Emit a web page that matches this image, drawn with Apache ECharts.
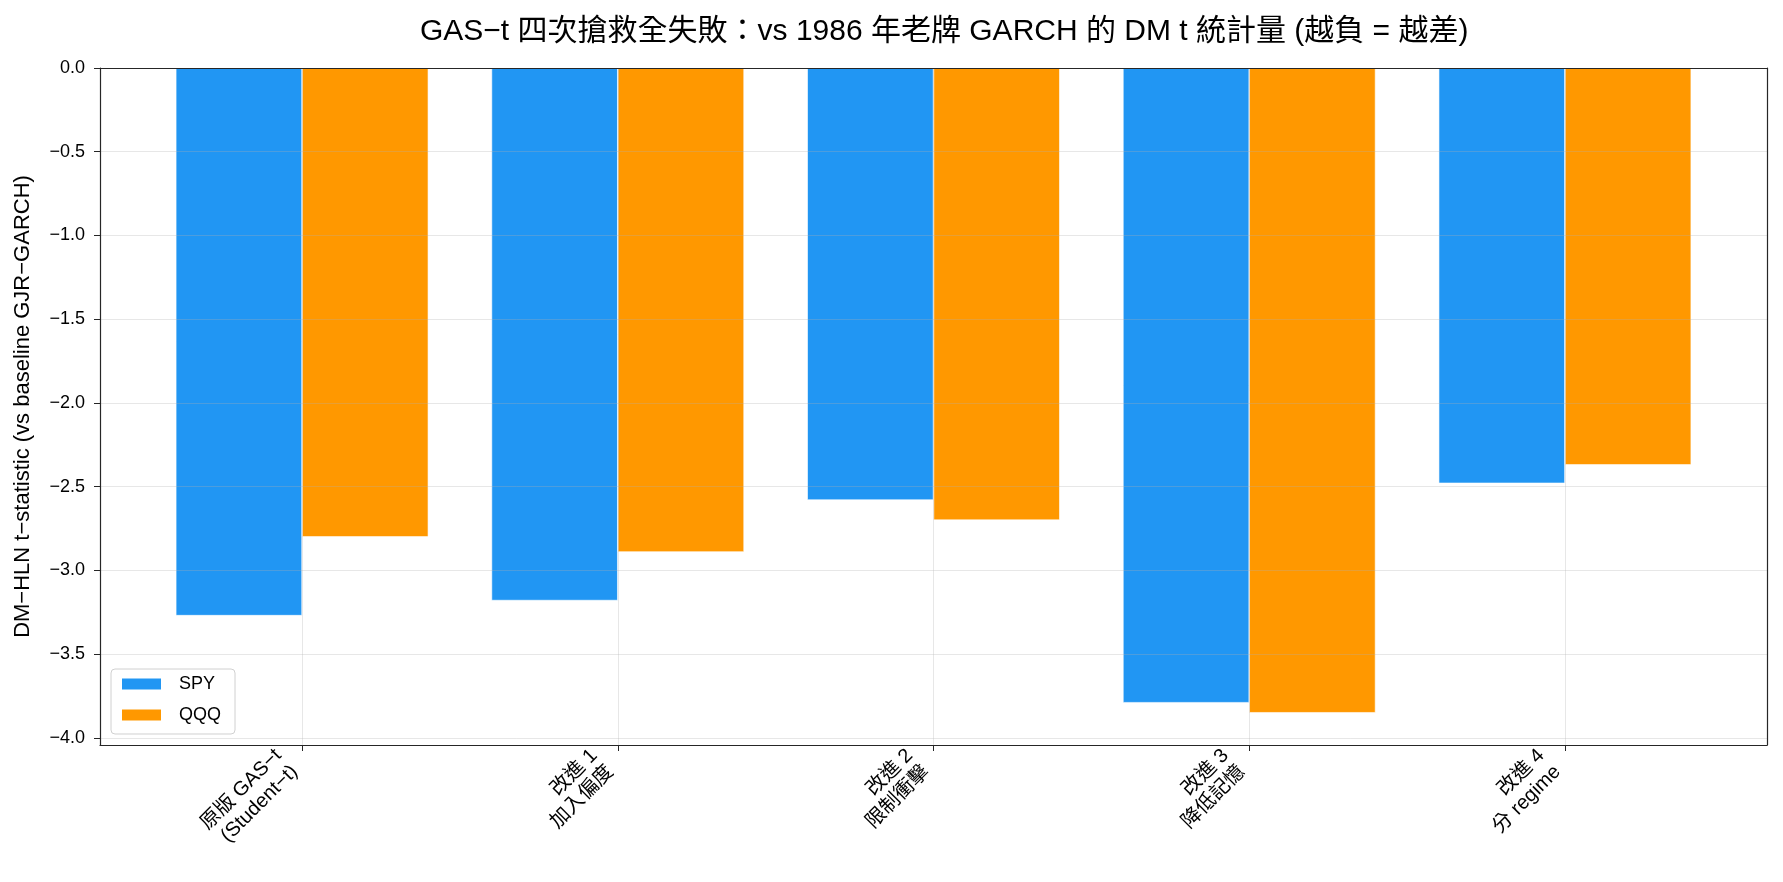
<!DOCTYPE html>
<html>
<head>
<meta charset="utf-8">
<script src="https://cdn.jsdelivr.net/npm/echarts@6/dist/echarts.min.js"></script>
<style>
  html, body { margin: 0; padding: 0; background: #fff; }
  #chart { width: 1783px; height: 882px; }
</style>
</head>
<body>
<div id="chart"></div>
<script>
// 類別與數據
const categories = ['原版 GAS\u2212t\n(Student\u2212t)', '改進 1\n加入偏度', '改進 2\n限制衝擊', '改進 3\n降低記憶', '改進 4\n分 regime']
const spyValues = [-3.27, -3.18, -2.58, -3.79, -2.48]
const qqqValues = [-2.80, -2.89, -2.70, -3.85, -2.37]
const yTicks = [0, -0.5, -1, -1.5, -2, -2.5, -3, -3.5, -4]
const xTicks = [0, 1, 2, 3, 4]

const font = '"Liberation Sans", "Noto Sans CJK TC", sans-serif'
const frameColor = '#262626'
const gridColor = 'rgba(176,176,176,0.3)'

// 數值格式 (用 U+2212 負號)
function fmt(v) {
  return (v < 0 ? '\u2212' : '') + Math.abs(v).toFixed(1)
}

// 只畫框線的輔助軸
function frameAxis(position, min, max) {
  return {
    type: 'value',
    position: position,
    min: min,
    max: max,
    z: 3,
    axisLine: { show: true, onZero: false, lineStyle: { color: frameColor, width: 1.2 } },
    axisTick: { show: false },
    axisLabel: { show: false },
    splitLine: { show: false }
  }
}

function toPairs(values) {
  return values.map((v, i) => [i, v])
}

const option = {
  animation: false,
  textStyle: { fontFamily: font },
  title: {
    text: 'GAS\u2212t 四次搶救全失敗：vs 1986 年老牌 GARCH 的 DM t 統計量 (越負 = 越差)',
    left: 415,
    top: 12,
    textStyle: { fontFamily: font, fontSize: 30, fontWeight: 'normal', color: '#000' }
  },
  grid: { left: 100, right: 16, top: 68, bottom: 137 },
  legend: {
    orient: 'vertical',
    left: 111,
    top: 669,
    padding: [6, 14, 10, 9],
    itemGap: 13,
    itemWidth: 41,
    itemHeight: 13,
    icon: 'rect',
    borderColor: '#d0d0d0',
    borderWidth: 1,
    borderRadius: 4,
    backgroundColor: 'rgba(255,255,255,0.8)',
    textStyle: { fontFamily: font, fontSize: 18, color: '#000', padding: [0, 0, 0, 12] },
    data: ['SPY', 'QQQ']
  },
  xAxis: [
    {
      type: 'value',
      position: 'bottom',
      min: -0.64,
      max: 4.64,
      z: 3,
      axisLine: { show: true, onZero: false, lineStyle: { color: frameColor, width: 1.2 } },
      axisTick: { show: true, length: 6, customValues: xTicks, lineStyle: { color: frameColor } },
      axisLabel: {
        customValues: xTicks,
        rotate: 45,
        margin: 0,
        padding: [0, 22, 0, 0],
        fontFamily: font,
        fontSize: 20,
        lineHeight: 23,
        color: '#000',
        formatter: v => categories[Math.round(v)]
      },
      splitLine: { show: true, lineStyle: { color: gridColor, width: 1 } }
    },
    frameAxis('top', -0.64, 4.64)
  ],
  yAxis: [
    {
      type: 'value',
      position: 'left',
      min: -4.0425,
      max: 0,
      z: 3,
      name: 'DM\u2212HLN t\u2212statistic (vs baseline GJR\u2212GARCH)',
      nameLocation: 'middle',
      nameGap: 66,
      nameTextStyle: { fontFamily: font, fontSize: 22, color: '#000' },
      axisLine: { show: true, onZero: false, lineStyle: { color: frameColor, width: 1.2 } },
      axisTick: { show: true, length: 6, customValues: yTicks, lineStyle: { color: frameColor } },
      axisLabel: {
        customValues: yTicks,
        margin: 15,
        fontFamily: font,
        fontSize: 18,
        color: '#000',
        formatter: fmt
      },
      splitLine: { show: true, lineStyle: { color: gridColor, width: 1 } }
    },
    frameAxis('right', -4.0425, 0)
  ],
  series: [
    {
      name: 'SPY',
      type: 'bar',
      xAxisIndex: 0,
      yAxisIndex: 0,
      barWidth: '40%',
      barGap: '0%',
      itemStyle: { color: '#2196F3', borderColor: '#fff', borderWidth: 0.6 },
      data: toPairs(spyValues)
    },
    {
      name: 'QQQ',
      type: 'bar',
      xAxisIndex: 0,
      yAxisIndex: 0,
      barWidth: '40%',
      barGap: '0%',
      itemStyle: { color: '#FF9800', borderColor: '#fff', borderWidth: 0.6 },
      data: toPairs(qqqValues)
    }
  ]
}

echarts.init(document.getElementById('chart'), null, { renderer: 'canvas' }).setOption(option)
</script>
</body>
</html>
